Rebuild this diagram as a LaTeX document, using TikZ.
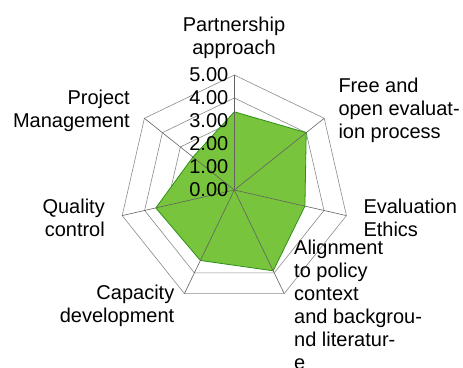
\documentclass[tikz,border=0pt]{standalone}
\usepackage{fontspec}
\setmainfont{Liberation Sans}
\definecolor{gridgray}{RGB}{140,140,140}
\definecolor{areagreen}{RGB}{120,196,60}
\definecolor{edgegreen}{RGB}{45,145,25}
\begin{document}
\begin{tikzpicture}[x=1pt,y=-1pt,
  gridline/.style={draw=gridgray,line width=0.6pt},
  spoke/.style={draw=gridgray!70!black,line width=0.6pt},
  area/.style={fill=areagreen,draw=edgegreen,line width=0.8pt,line join=round},
  lbl/.style={font=\fontsize{20}{23}\selectfont,inner sep=0pt,text=black},
  num/.style={font=\fontsize{20}{23}\selectfont,inner sep=0pt,anchor=east}]
\useasboundingbox[fill=white] (0,0) rectangle (463,367);
\begin{scope}[shift={(234.3,190)},yscale=-1]
  \coordinate (O) at (0,0);
  \foreach \k in {0,...,6} {\coordinate (v\k) at ({90-\k*360/7}:115);}
  \foreach \r in {23,46,69,92,115}
    \draw[gridline] (90:\r) \foreach \k in {1,...,6} {-- ({90-\k*360/7}:\r)} -- cycle;
  \path[area] (90:{3.4*23}) -- ({90-360/7}:{4.0*23}) -- ({90-2*360/7}:{3.15*23})
    -- ({90-3*360/7}:{3.9*23}) -- ({90-4*360/7}:{3.4*23}) -- ({90-5*360/7}:{3.5*23})
    -- ({90-6*360/7}:{2.3*23}) -- cycle;
  \foreach \k in {0,...,6} \draw[spoke] (O) -- (v\k);
\end{scope}
\foreach \v/\y in {5/75,4/98,3/121,2/144,1/167,0/190}
  \node[num] (n\v) at (228.5,\y) {\v.00};
\node[lbl,anchor=base,align=center] (pa) at (234,54.5) {Partnership\\approach};
\node[lbl,anchor=base west,align=left] (fo) at (338.3,138.3) {Free and\\open evaluat-\\ion process};
\node[lbl,anchor=base west,align=left] (ee) at (363.3,236) {Evaluation\\Ethics};
\node[lbl,anchor=base west,align=left] (al) at (294,369) {Alignment\\to policy\\context\\and backgrou-\\nd literatur-\\e};
\node[lbl,anchor=base east,align=right] (cd) at (174.5,322.7) {Capacity\\development};
\node[lbl,anchor=base east,align=right] (qc) at (105,236) {Quality\\control};
\node[lbl,anchor=base east,align=right] (pm) at (130,127.3) {Project\\Management};
\end{tikzpicture}
\end{document}
